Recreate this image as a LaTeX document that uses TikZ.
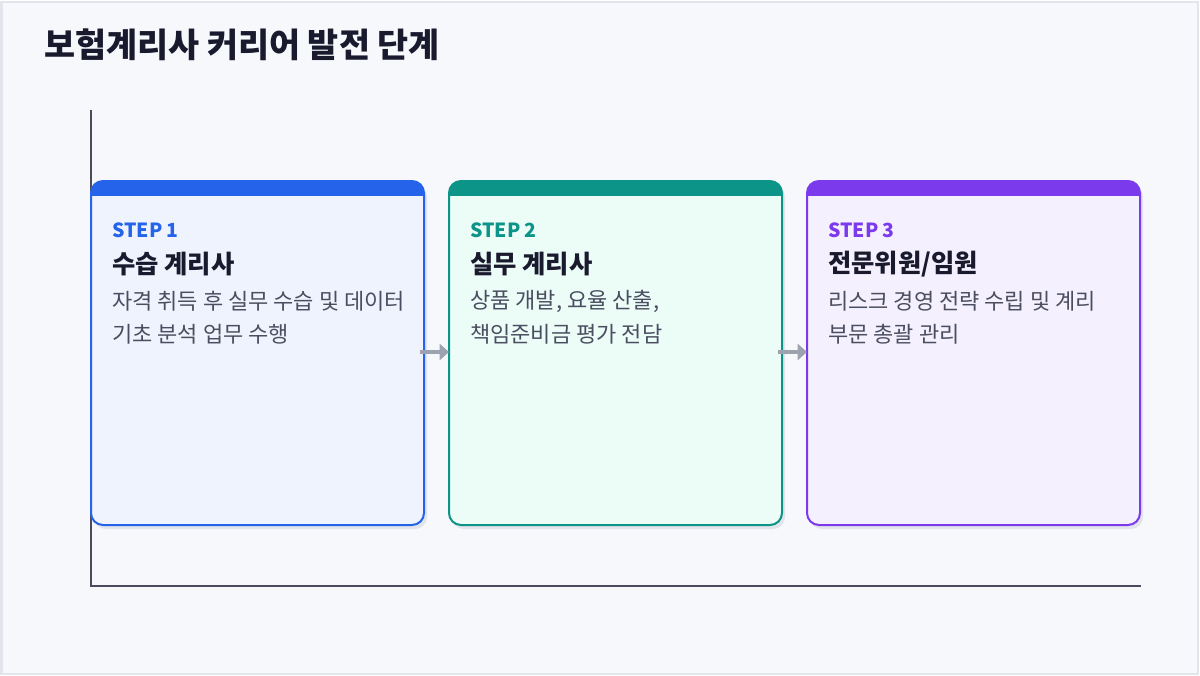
\documentclass[tikz,border=0pt]{standalone}
\usepackage{fontspec}
\setmainfont{Noto Sans CJK KR}
\usetikzlibrary{arrows.meta}
\definecolor{bgc}{HTML}{F7F8FC}
\definecolor{framec}{HTML}{E2E5EC}
\definecolor{titlec}{HTML}{1A1A2E}
\definecolor{axisc}{HTML}{4B4B5E}
\definecolor{descc}{HTML}{4A4E60}
\definecolor{arrowc}{HTML}{9CA3AF}
\definecolor{shadowc}{HTML}{E1E4EA}
\definecolor{cA}{HTML}{2563EB}\definecolor{fA}{HTML}{EEF3FD}
\definecolor{cB}{HTML}{0D9488}\definecolor{fB}{HTML}{ECFDF8}
\definecolor{cC}{HTML}{7C3AED}\definecolor{fC}{HTML}{F5F0FE}
\tikzset{
  boxbody/.style={rectangle, rounded corners=9pt, minimum width=249.75pt, minimum height=258pt, inner sep=0pt, outer sep=0pt, anchor=north west},
  steplbl/.style={anchor=west, inner sep=0pt, font=\bfseries\fontsize{14.6}{16}\selectfont},
  headlbl/.style={anchor=west, inner sep=0pt, text=titlec, font=\bfseries\fontsize{19}{22}\selectfont},
  desclbl/.style={anchor=west, inner sep=0pt, text=descc, font=\fontsize{16.5}{19}\selectfont},
  flowarrow/.style={draw=arrowc, line width=3pt, -{Triangle[length=7pt,width=12pt]}},
}
\begin{document}
\begin{tikzpicture}[x=0.75pt,y=-0.75pt]
\useasboundingbox (0,0) rectangle (1200,675);
\fill[white] (0,0) rectangle (1200,675);
\draw[framec, fill=bgc, line width=1.5pt] (1.5,1.5) rectangle (1197.5,673.5);
\node[anchor=west, inner sep=0pt, text=titlec, font=\bfseries\fontsize{25.3}{30}\selectfont] (title) at (44,45) {보험계리사 커리어 발전 단계};
% axes
\coordinate (axtop) at (91,110);
\coordinate (axorig) at (91,586);
\coordinate (axend) at (1141,586);
\draw[axisc, line width=1.5pt] (axtop) -- (axorig) -- (axend);
% boxes
\foreach \i/\x/\c/\f/\s/\h/\da/\db in {
  1/91/cA/fA/STEP 1/수습 계리사/자격 취득 후 실무 수습 및 데이터/기초 분석 업무 수행,
  2/449/cB/fB/STEP 2/실무 계리사/{상품 개발, 요율 산출,}/책임준비금 평가 전담,
  3/807/cC/fC/STEP 3/{전문위원/임원}/리스크 경영 전략 수립 및 계리/부문 총괄 관리}{
  \fill[shadowc, rounded corners=9pt] (\x+3,185) rectangle (\x+336,529);
  \node[boxbody, fill=\f] (b\i) at (\x,181) {};
  \begin{scope}
    \clip[rounded corners=9pt] (b\i.north west) rectangle (b\i.south east);
    \fill[\c] (b\i.north west) rectangle ([yshift=-11.25pt]b\i.north east);
  \end{scope}
  \draw[\c, line width=1.5pt, rounded corners=9pt] (b\i.north west) rectangle (b\i.south east);
  \node[steplbl, text=\c] (s\i) at (\x+21,230) {\s};
  \node[headlbl] (h\i) at (\x+21,264) {\h};
  \node[desclbl] (da\i) at (\x+21,301) {\da};
  \node[desclbl] (db\i) at (\x+21,334) {\db};
}
\coordinate (a1s) at (420,352);
\coordinate (a2s) at (778,352);
\draw[flowarrow] (a1s) -- (a1s -| b2.west);
\draw[flowarrow] (a2s) -- (a2s -| b3.west);
\end{tikzpicture}
\end{document}
